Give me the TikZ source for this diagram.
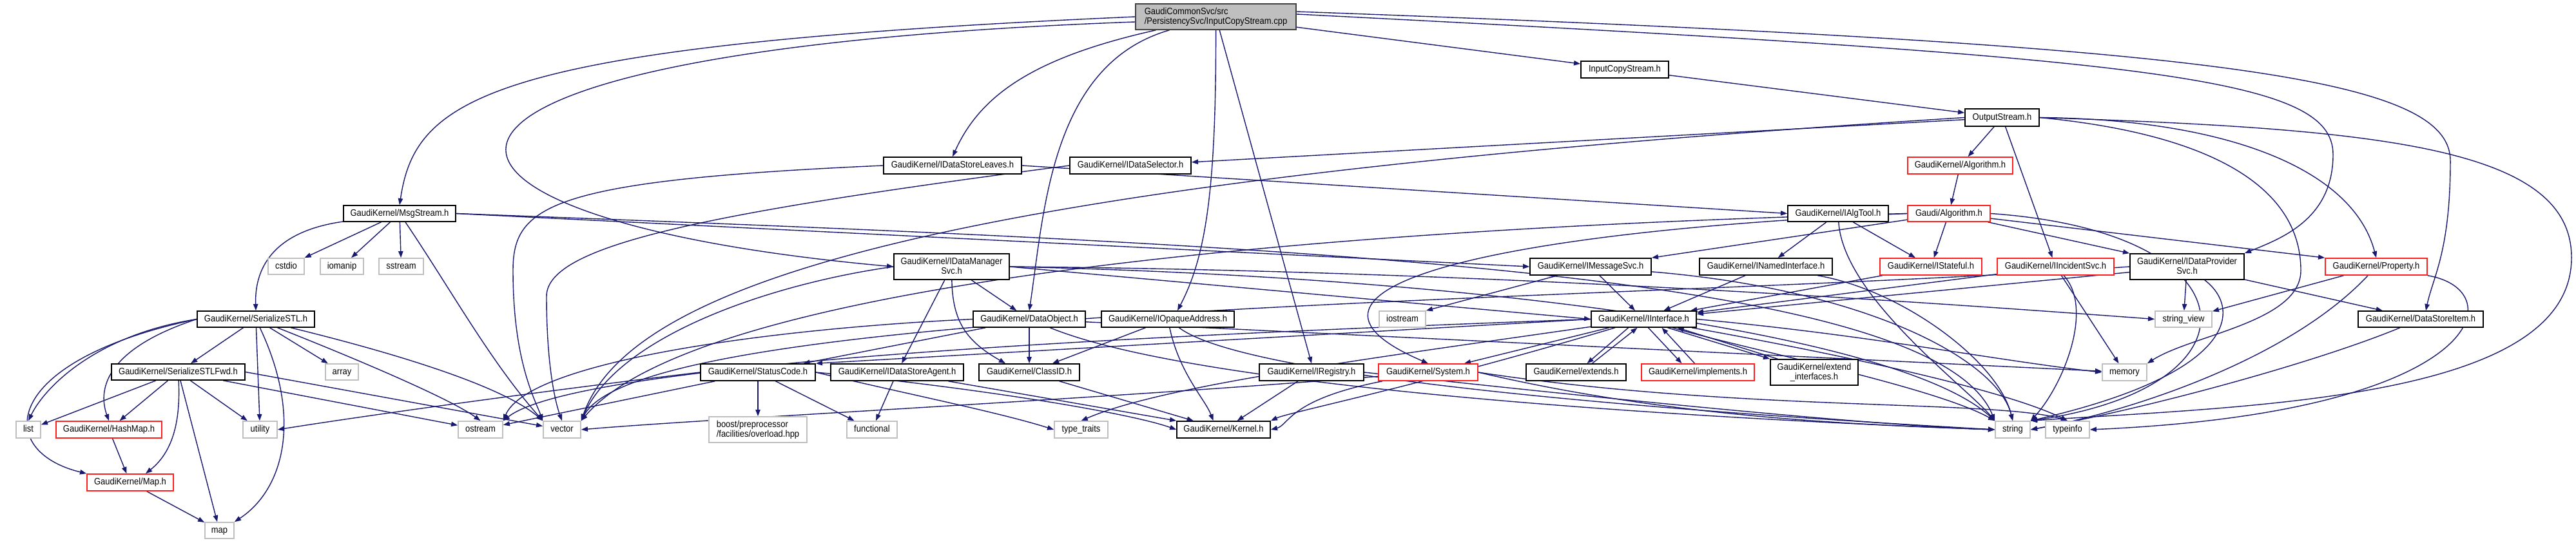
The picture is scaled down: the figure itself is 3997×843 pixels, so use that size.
\documentclass[tikz,border=0pt]{standalone}
\usepackage{fontspec}
\newfontfamily\dxfont[FakeStretch=0.9]{Liberation Sans}
\usetikzlibrary{arrows.meta,calc,backgrounds}
\definecolor{edgec}{HTML}{191970}
\definecolor{sysgray}{HTML}{BFBFBF}
\definecolor{srcborder}{HTML}{404040}
\definecolor{truncred}{HTML}{FF2020}
\newcommand\dnode[7]{\node[#6,minimum width={(#4-#2)*0.01cm},minimum height={(#5-#3)*0.01cm}] (#1) at ({(#2+#4)/2},{(#3+#5)/2}) {#7};}
\tikzset{
  box/.style={draw=black, line width=0.45pt, fill=white, inner sep=0pt, align=center,
    font=\dxfont\fontsize{4.1pt}{4.35pt}\selectfont, text height=2.95pt, text depth=0.85pt},
  twoline/.style={text height=7.3pt, text depth=0.85pt},
  redbox/.style={box, draw=truncred},
  sysbox/.style={box, draw=sysgray},
  srcbox/.style={box, twoline, draw=srcborder, fill=sysgray, align=left},
  edge/.style={draw=edgec, line width=0.4pt, -{Triangle[length=2.9pt,width=2.1pt]}},
}
\begin{document}
\begin{tikzpicture}[x=0.01cm,y=-0.01cm]
\useasboundingbox (0,0) rectangle (3997,843);
% nodes
\dnode{cpp}{1762}{6}{2011}{46}{srcbox}{GaudiCommonSvc/src\\/PersistencySvc/InputCopyStream.cpp}
\dnode{ich}{2453}{95}{2589}{121}{box}{InputCopyStream.h}
\dnode{os}{3049}{169}{3164}{196}{box}{OutputStream.h}
\dnode{kalg}{2960}{244}{3123}{270}{redbox}{GaudiKernel/Algorithm.h}
\dnode{galg}{2960}{319}{3088}{344}{redbox}{Gaudi/Algorithm.h}
\dnode{ialgtool}{2774}{319}{2930}{344}{box}{GaudiKernel/IAlgTool.h}
\dnode{imsg}{2374}{401}{2562}{427}{box}{GaudiKernel/IMessageSvc.h}
\dnode{inamed}{2637}{401}{2843}{427}{box}{GaudiKernel/INamedInterface.h}
\dnode{istate}{2917}{401}{3075}{427}{redbox}{GaudiKernel/IStateful.h}
\dnode{iinc}{3099}{401}{3280}{427}{redbox}{GaudiKernel/IIncidentSvc.h}
\dnode{idp}{3305}{394}{3482}{434}{box,twoline}{GaudiKernel/IDataProvider\\Svc.h}
\dnode{prop}{3608}{401}{3766}{427}{redbox}{GaudiKernel/Property.h}
\dnode{leaves}{1371}{244}{1585}{270}{box}{GaudiKernel/IDataStoreLeaves.h}
\dnode{sel}{1660}{244}{1848}{270}{box}{GaudiKernel/IDataSelector.h}
\dnode{msg}{533}{319}{707}{344}{box}{GaudiKernel/MsgStream.h}
\dnode{idm}{1387}{394}{1566}{434}{box,twoline}{GaudiKernel/IDataManager\\Svc.h}
\dnode{cstdio}{416}{401}{472}{426}{sysbox}{cstdio}
\dnode{iomanip}{497}{401}{564}{426}{sysbox}{iomanip}
\dnode{sstream}{588}{401}{657}{426}{sysbox}{sstream}
\dnode{ser}{306}{483}{488}{508}{box}{GaudiKernel/SerializeSTL.h}
\dnode{fwd}{173}{565}{380}{590}{box}{GaudiKernel/SerializeSTLFwd.h}
\dnode{array}{505}{565}{556}{590}{sysbox}{array}
\dnode{list}{25}{654}{63}{680}{sysbox}{list}
\dnode{hash}{87}{654}{251}{680}{redbox}{GaudiKernel/HashMap.h}
\dnode{utility}{377}{654}{430}{680}{sysbox}{utility}
\dnode{ostream}{711}{654}{780}{680}{sysbox}{ostream}
\dnode{vector}{843}{654}{901}{680}{sysbox}{vector}
\dnode{maph}{135}{736}{269}{762}{redbox}{GaudiKernel/Map.h}
\dnode{map}{318}{811}{363}{836}{sysbox}{map}
\dnode{sc}{1087}{565}{1265}{591}{box}{GaudiKernel/StatusCode.h}
\dnode{boost}{1100}{647}{1252}{687}{sysbox,twoline,align=left}{boost/preprocessor\\/facilities/overload.hpp}
\dnode{functional}{1314}{654}{1392}{680}{sysbox}{functional}
\dnode{dobj}{1510}{483}{1684}{508}{box}{GaudiKernel/DataObject.h}
\dnode{iopaque}{1709}{483}{1915}{508}{box}{GaudiKernel/IOpaqueAddress.h}
\dnode{agent}{1289}{565}{1495}{591}{box}{GaudiKernel/IDataStoreAgent.h}
\dnode{classid}{1519}{565}{1675}{591}{box}{GaudiKernel/ClassID.h}
\dnode{typetraits}{1636}{654}{1719}{680}{sysbox}{type\_traits}
\dnode{kernel}{1826}{654}{1971}{680}{box}{GaudiKernel/Kernel.h}
\dnode{ireg}{1954}{565}{2116}{591}{box}{GaudiKernel/IRegistry.h}
\dnode{iostream}{2140}{483}{2212}{508}{sysbox}{iostream}
\dnode{iint}{2469}{483}{2632}{508}{box}{GaudiKernel/IInterface.h}
\dnode{system}{2139}{565}{2293}{591}{redbox}{GaudiKernel/System.h}
\dnode{extends}{2368}{565}{2523}{591}{box}{GaudiKernel/extends.h}
\dnode{impl}{2547}{565}{2722}{591}{redbox}{GaudiKernel/implements.h}
\dnode{extif}{2747}{558}{2883}{598}{box,twoline}{GaudiKernel/extend\\\_interfaces.h}
\dnode{strview}{3344}{483}{3432}{508}{sysbox}{string\_view}
\dnode{memory}{3262}{565}{3331}{591}{sysbox}{memory}
\dnode{string}{3096}{654}{3150}{680}{sysbox}{string}
\dnode{typeinfo}{3174}{654}{3242}{680}{sysbox}{typeinfo}
\dnode{dsi}{3659}{483}{3853}{508}{box}{GaudiKernel/DataStoreItem.h}
\begin{pgfonlayer}{background}
% --- edges from the source file
\draw[edge] (cpp.west) .. controls (760,70) and (645,150) .. (msg.north);
\draw[edge] ($(cpp.west)+(0,8)$) .. controls (500,80) and (560,340) .. (idm.west);
\draw[edge] (cpp) .. controls (1600,90) and (1520,150) .. (leaves.north);
\draw[edge] (cpp) .. controls (1630,100) and (1620,330) .. (dobj.north);
\draw[edge] (cpp) .. controls (1887,300) and (1870,400) .. ($(iopaque.north)+(15,0)$);
\draw[edge] (cpp) -- (ireg.north);
\draw[edge] (cpp) -- (ich);
\draw[edge] ($(cpp.east)+(0,-4)$) .. controls (3350,90) and (3620,120) .. (3620,240) .. controls (3620,340) and (3540,370) .. (idp.north east);
\draw[edge] ($(cpp.east)+(0,-8)$) .. controls (3450,70) and (3802,120) .. (3802,250) .. controls (3802,390) and (3775,430) .. ($(dsi.north)+(8,0)$);
\draw[edge] (ich) -- (os);
% --- OutputStream.h
\draw[edge] (os) -- (sel);
\draw[edge] (os.west) .. controls (1500,280) and (980,430) .. (vector.north east);
\draw[edge] (os) -- (kalg);
\draw[edge] (os) -- (iinc);
\draw[edge] (os.east) .. controls (3450,185) and (3650,260) .. (prop.north);
\draw[edge] (os.east) .. controls (3450,210) and (3570,300) .. (3570,420) .. controls (3570,500) and (3400,520) .. (memory.north east);
\draw[edge] (os.east) .. controls (3700,200) and (3990,230) .. (3990,400) .. controls (3990,620) and (3500,630) .. (string.north east);
\draw[edge] (kalg) -- (galg);
% --- Gaudi/Algorithm.h
\draw[edge] (galg) -- (imsg.north east);
\draw[edge] (galg) -- (istate);
\draw[edge] (galg) -- (idp.north west);
\draw[edge] (galg) -- (prop.north west);
\draw[edge] (galg.east) .. controls (3500,360) and (3520,600) .. (string.north east);
\draw[edge] (galg.west) .. controls (2200,350) and (1100,420) .. (vector.north east);
\draw[edge] (galg.west) .. controls (2300,360) and (1950,450) .. (system.north);
% --- IAlgTool.h
\draw[edge] (ialgtool) -- (inamed);
\draw[edge] (ialgtool) -- (istate);
\draw[edge] (ialgtool) .. controls (2860,460) and (3050,600) .. (string.north west);
% --- IDataStoreLeaves.h, IDataSelector.h
\draw[edge] (leaves.east) -- (ialgtool.west);
\draw[edge] (leaves.west) .. controls (850,280) and (796,320) .. (796,420) .. controls (796,560) and (830,620) .. (vector.north west);
\draw[edge] (sel.west) .. controls (1100,330) and (848,380) .. (848,460) .. controls (848,560) and (860,620) .. (vector.north);
% --- MsgStream.h
\draw[edge] (msg) .. controls (420,360) and (395,420) .. (ser.north);
\draw[edge] (msg) -- (cstdio);
\draw[edge] (msg) -- (iomanip);
\draw[edge] (msg) -- (sstream);
\draw[edge] (msg) .. controls (700,450) and (760,560) .. (vector.north west);
\draw[edge] (msg.east) -- (imsg.west);
\draw[edge] (msg.east) .. controls (2000,380) and (3000,420) .. (string.north west);
% --- SerializeSTL.h
\draw[edge] (ser) -- (fwd);
\draw[edge] (ser.west) .. controls (150,520) and (70,600) .. (list.north);
\draw[edge] (ser.west) .. controls (170,540) and (150,600) .. (hash.north);
\draw[edge] (ser.west) .. controls (0,560) and (-10,700) .. (maph.north west);
\draw[edge] (ser) -- (utility);
\draw[edge] (ser) .. controls (470,650) and (440,760) .. (map.north east);
\draw[edge] (ser) -- (array);
\draw[edge] (ser) .. controls (560,560) and (700,620) .. (ostream.north);
\draw[edge] (ser) .. controls (620,550) and (780,600) .. (vector.north west);
% --- SerializeSTLFwd.h
\draw[edge] (fwd) -- (list);
\draw[edge] (fwd) -- (hash);
\draw[edge] (fwd) .. controls (280,650) and (270,700) .. ($(maph.north)+(24,0)$);
\draw[edge] (fwd) -- (map);
\draw[edge] (fwd) -- (utility);
\draw[edge] (fwd) -- (ostream);
\draw[edge] (fwd.east) -- (vector);
\draw[edge] (hash) -- (maph);
\draw[edge] (maph) -- (map);
% --- IDataManagerSvc.h
\draw[edge] (idm) -- (dobj);
\draw[edge] (idm) .. controls (1478,500) and (1500,530) .. ($(classid.north)+(-37,0)$);
\draw[edge] (idm) -- (agent);
\draw[edge] (idm.west) .. controls (1200,440) and (960,520) .. (vector.north east);
\draw[edge] (idm.east) -- (iint.west);
\draw[edge] (idm.east) .. controls (2300,430) and (2950,520) .. (string.north west);
\draw[edge] (idm.east) .. controls (2300,420) and (3000,470) .. (strview.west);
% --- DataObject.h
\draw[edge] (dobj) -- (classid);
\draw[edge] (dobj) -- (sc);
\draw[edge] (dobj.west) .. controls (1200,510) and (820,560) .. (ostream.north east);
\draw[edge] (dobj) -- (memory);
\draw[edge] (dobj) .. controls (1900,620) and (2900,660) .. (string.west);
% --- IOpaqueAddress.h, IRegistry.h, ClassID.h, IDataStoreAgent.h
\draw[edge] (iopaque) -- (classid);
\draw[edge] (iopaque) .. controls (1830,580) and (1870,620) .. ($(kernel.north)+(-16,0)$);
\draw[edge] (iopaque) .. controls (1950,600) and (2800,650) .. (string.west);
\draw[edge] (ireg) -- (kernel);
\draw[edge] (ireg.east) .. controls (2500,620) and (2900,660) .. (string.west);
\draw[edge] (classid) -- (kernel);
\draw[edge] (agent) -- (kernel.north west);
\draw[edge] (agent) -- (functional);
% --- StatusCode.h
\draw[edge] (sc) -- (boost);
\draw[edge] (sc) -- (functional);
\draw[edge] (sc) -- (ostream);
\draw[edge] (sc.west) .. controls (900,600) and (600,640) .. (utility.east);
\draw[edge] (sc.east) .. controls (1400,610) and (1550,640) .. (typetraits.west);
\draw[edge] (sc.east) .. controls (1500,600) and (1750,640) .. (kernel.west);
% --- interfaces
\draw[edge] (imsg) -- (iint);
\draw[edge] (imsg) -- (iostream.north east);
\draw[edge] (imsg) .. controls (2900,450) and (3100,560) .. (string.north);
\draw[edge] (inamed) -- (iint);
\draw[edge] (inamed) .. controls (2950,450) and (3100,560) .. (string.north);
\draw[edge] (istate) -- (iint);
\draw[edge] (iinc) -- (iint);
\draw[edge] (iinc) -- (memory);
\draw[edge] (iinc) .. controls (3250,480) and (3200,600) .. (string.north east);
\draw[edge] (idp) -- (strview);
\draw[edge] (idp) -- (iint);
\draw[edge] (idp.west) .. controls (2500,470) and (1000,470) .. (vector.north east);
\draw[edge] (idp) .. controls (3480,480) and (3470,580) .. (string.north east);
\draw[edge] (idp) -- (dsi);
\draw[edge] (prop) -- (strview);
\draw[edge] (prop) .. controls (3550,560) and (3300,640) .. (string.east);
\draw[edge] (prop.south east) .. controls (3900,450) and (3860,640) .. (typeinfo.east);
\draw[edge] (dsi) .. controls (3600,560) and (3350,630) .. (string.east);
% --- IInterface.h
\draw[edge] (iint.west) -- (sc.north east);
\draw[edge] (iint) -- (system);
\draw[edge] (iint.west) .. controls (1800,520) and (900,560) .. (ostream.north east);
\draw[edge] (iint) .. controls (2200,600) and (2000,640) .. (kernel.north east);
\draw[edge] (iint) .. controls (2100,560) and (1800,600) .. (typetraits.north);
\draw[edge] (iint) .. controls (2800,540) and (3100,600) .. (typeinfo.north);
\draw[edge] (iint) .. controls (2700,540) and (3000,600) .. (string.north west);
\draw[edge] (iint.east) .. controls (2900,520) and (3100,560) .. (memory.west);
\draw[edge] ($(iint.south)+(-24,0)$) -- ($(extends.north)+(17,0)$);
\draw[edge] ($(extends.north)+(25,0)$) -- ($(iint.south)+(-10,0)$);
\draw[edge] ($(iint.south)+(7,0)$) -- ($(impl.north)+(-25,0)$);
\draw[edge] ($(impl.north)+(-5,0)$) -- ($(iint.south)+(28,0)$);
\draw[edge] ($(iint.south)+(37,0)$) -- (extif.north west);
\draw[edge] ($(extif.north west)+(12,0)$) -- ($(iint.south)+(52,0)$);
% --- System.h
\draw[edge] (system) .. controls (2000,620) and (2000,660) .. (kernel.east);
\draw[edge] (system.east) .. controls (2600,650) and (2900,660) .. (string.west);
\draw[edge] (system.east) .. controls (2700,640) and (3100,620) .. (typeinfo.north);
\draw[edge] (system) .. controls (1700,620) and (1100,650) .. (vector.east);
\end{pgfonlayer}
\end{tikzpicture}
\end{document}
